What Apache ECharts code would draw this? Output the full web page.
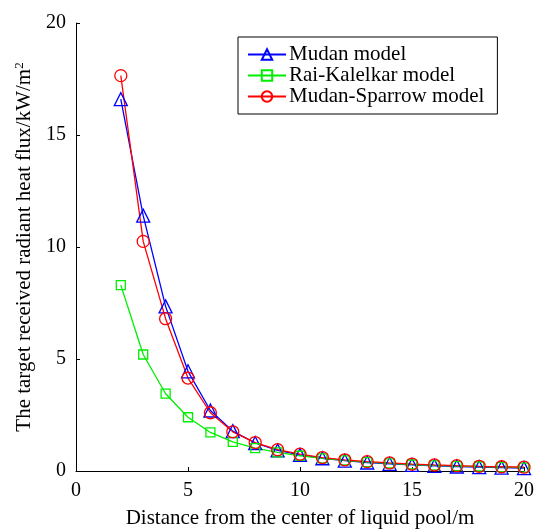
<!DOCTYPE html>
<html><head><meta charset="utf-8">
<script src="https://cdn.jsdelivr.net/npm/echarts@6/dist/echarts.min.js"></script>
<style>html,body{margin:0;padding:0;background:#fff}#c{width:541px;height:530px}</style>
</head><body><div id="c"></div>
<script>
const distances = [2,3,4,5,6,7,8,9,10,11,12,13,14,15,16,17,18,19,20];
const mudan = [16.6,11.4,7.35,4.45,2.7,1.78,1.25,0.92,0.72,0.57,0.46,0.38,0.32,0.27,0.23,0.2,0.17,0.15,0.13];
const raiKalelkar = [8.3,5.2,3.45,2.4,1.72,1.3,1.02,0.83,0.68,0.56,0.47,0.4,0.34,0.29,0.25,0.22,0.2,0.17,0.15];
const mudanSparrow = [17.65,10.25,6.8,4.15,2.6,1.75,1.27,0.95,0.75,0.6,0.5,0.42,0.36,0.31,0.27,0.24,0.21,0.19,0.17];
const seriesNames = ['Mudan model','Rai-Kalelkar model','Mudan-Sparrow model'];
const xTicks = [0,5,10,15,20];
const yTicks = [0,5,10,15,20];

const font = 'Liberation Serif, Times New Roman, serif';
const pair = arr => distances.map((d,i)=>[d,arr[i]]);
function mk(name, data, color, symbol, size){
  return {name, type:'line', data:pair(data), symbol, symbolSize:size,
    lineStyle:{color, width:1.3}, itemStyle:{color:'rgba(255,255,255,0)', borderColor:color, borderWidth:1.3},
    emphasis:{disabled:true}, animation:false, z:2};
}
const chart = echarts.init(document.getElementById('c'));
chart.setOption({
  backgroundColor:'#fff',
  grid:{left:76, right:17, top:23, bottom:59, containLabel:false, outerBoundsMode:'none'},
  legend:{
    data:seriesNames, orient:'vertical', left:238, top:37,
    backgroundColor:'#fff', borderColor:'#000', borderWidth:1,
    padding:[7,13,7,9], itemGap:0, itemWidth:38, itemHeight:13,
    textStyle:{fontFamily:font, fontSize:21, color:'#000', padding:[0,0,0,-2], lineHeight:21},
    selectedMode:false
  },
  xAxis:{type:'value', min:0, max:20, interval:5,
    name:'Distance from the center of liquid pool/m', nameLocation:'middle', nameGap:37,
    nameTextStyle:{fontFamily:font, fontSize:21, color:'#000'},
    axisLine:{show:true, lineStyle:{color:'#000', width:1}},
    axisTick:{inside:true, length:4, lineStyle:{color:'#000'}},
    axisLabel:{fontFamily:font, fontSize:20, color:'#000', margin:10,
      formatter:v=>xTicks.includes(v)?String(v):''},
    splitLine:{show:false}},
  yAxis:{type:'value', min:0, max:20, interval:5,
    name:'{a|The target received radiant heat flux/kW/m}{s|2}', nameLocation:'middle', nameGap:40,
    nameTextStyle:{fontFamily:font, fontSize:21, color:'#000',
      rich:{a:{fontFamily:font, fontSize:21, color:'#000'}, s:{fontFamily:font, fontSize:13, color:'#000', padding:[0,0,10,0]}}},
    axisLine:{show:true, lineStyle:{color:'#000', width:1}},
    axisTick:{inside:true, length:4, lineStyle:{color:'#000'}},
    axisLabel:{fontFamily:font, fontSize:20, color:'#000', margin:10,
      formatter:v=>yTicks.includes(v)?String(v):''},
    splitLine:{show:false}},
  series:[
    mk(seriesNames[0], mudan, '#0000ff', 'triangle', 13),
    mk(seriesNames[1], raiKalelkar, '#00ee00', 'rect', 9),
    mk(seriesNames[2], mudanSparrow, '#ff0000', 'circle', 12)
  ]
});
</script></body></html>
